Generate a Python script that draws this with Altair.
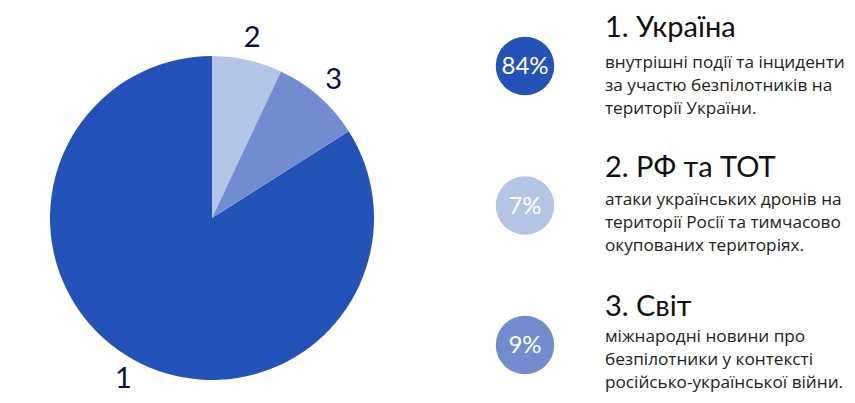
import altair as alt
import pandas as pd

# ---- data ----
categories = ["1", "2", "3"]
shares = [84, 7, 9]
pie_order = [3, 1, 2]  # clockwise from 12 o'clock: 2, 3, then 1
titles = ["1. Україна", "2. РФ та ТОТ", "3. Світ"]
descriptions = [
    "внутрішні події та інциденти\nза участю безпілотників на\nтериторії України.",
    "атаки українських дронів на\nтериторії Росії та тимчасово\nокупованих територіях.",
    "міжнародні новини про\nбезпілотники у контексті\nросійсько-української війни.",
]
colors = ["#2353B9", "#B5C5E6", "#728DCF"]

df = pd.DataFrame({
    "cat": categories,
    "share": shares,
    "ord": pie_order,
    "title": titles,
    "desc": descriptions,
})

TITLE_FONT = "Lato"
BODY_FONT = "Open Sans"

color = alt.Color("cat:N", scale=alt.Scale(domain=categories, range=colors), legend=None)

base = alt.Chart(df)

cx, cy = 204, 210

pie = base.mark_arc(outerRadius=162, strokeWidth=0).encode(
    theta=alt.Theta("share:Q", stack=True),
    order=alt.Order("ord:Q"),
    color=color,
    x=alt.value(cx),
    y=alt.value(cy),
)

pie_labels = base.mark_text(
    font=TITLE_FONT, fontSize=29, fill="#0E0E3D", baseline="middle", align="center"
).encode(
    theta=alt.Theta("share:Q", stack=True),
    order=alt.Order("ord:Q"),
    radius=alt.value(184),
    text="cat:N",
    x=alt.value(cx),
    y=alt.value(cy),
)

circles = base.mark_circle(size=3420, opacity=1).encode(
    x=alt.value(517),
    y=alt.Y("cat:N", scale=alt.Scale(domain=categories, range=[58, 337], padding=0), axis=None),
    color=color,
)

pct = base.transform_calculate(lbl="datum.share + '%'").mark_text(
    font=TITLE_FONT, fontSize=24, fill="white", baseline="middle", align="center"
).encode(
    x=alt.value(517),
    y=alt.Y("cat:N", scale=alt.Scale(domain=categories, range=[59, 338], padding=0), axis=None),
    text="lbl:N",
)

title_txt = base.mark_text(
    font=TITLE_FONT, fontSize=29, fill="#111111", baseline="alphabetic", align="left"
).encode(
    x=alt.value(597),
    y=alt.Y("cat:N", scale=alt.Scale(domain=categories, range=[29, 308], padding=0), axis=None),
    text="title:N",
)

desc_txt = base.mark_text(
    font=BODY_FONT, fontSize=17.2, fill="#222222", baseline="alphabetic", align="left",
    lineBreak="\n", lineHeight=23.2,
).encode(
    x=alt.value(597),
    y=alt.Y("cat:N", scale=alt.Scale(domain=categories, range=[60, 334], padding=0), axis=None),
    text="desc:N",
)

chart = alt.layer(pie, pie_labels, circles, pct, title_txt, desc_txt).resolve_scale(
    y="independent"
).properties(
    width=839, height=387, padding=0, autosize=alt.AutoSizeParams(type="none"),
    background="white",
).configure_view(stroke=None)

chart.save("out.html", embed_options={"renderer": "svg", "actions": False})
